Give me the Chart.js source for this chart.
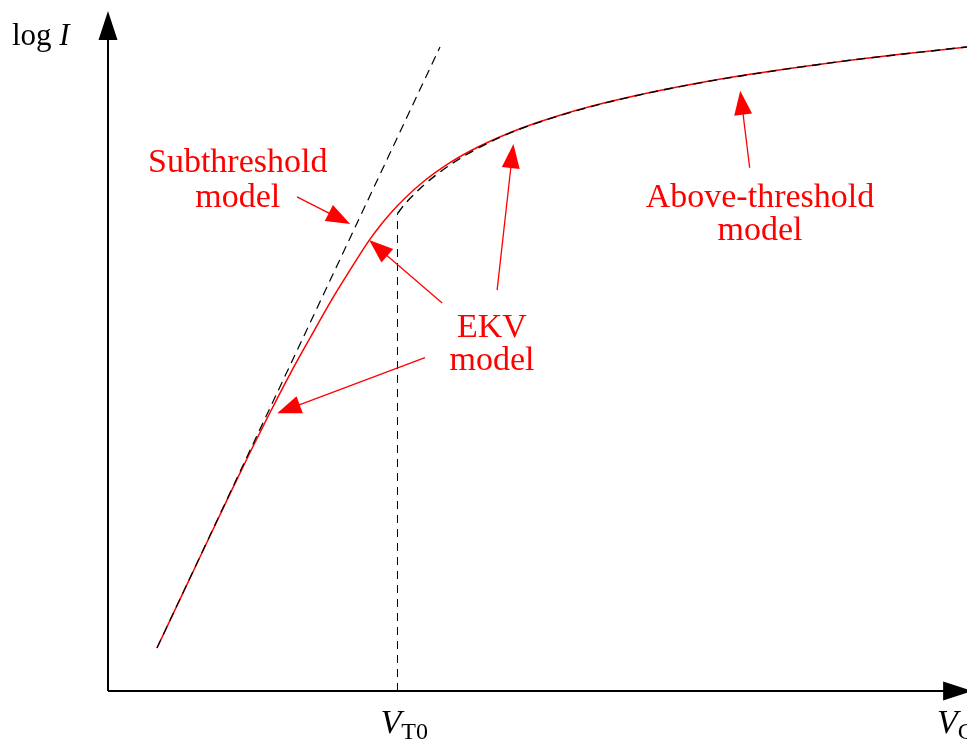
<!DOCTYPE html>
<html>
<head>
<meta charset="utf-8">
<script src="https://cdn.jsdelivr.net/npm/chart.js@4/dist/chart.umd.min.js"></script>
<style>
html,body{margin:0;padding:0;background:#fff;overflow:hidden;}
canvas{display:block;}
</style>
</head>
<body>
<canvas id="c" width="967" height="742"></canvas>
<script>
// ---- data (arbitrary units 0..100) ----
const ekvX   = [5.70, 10.71, 14.20, 16.53, 18.86, 21.19, 23.52, 26.19, 28.17, 30.50, 31.66, 33.64, 36.32, 39.81, 43.31, 47.96, 52.62, 57.28, 63.10, 68.92, 74.74, 80.56, 86.38, 92.20, 100.00];
const ekvY   = [6.36, 19.82, 29.16, 35.28, 41.20, 46.89, 52.22, 58.18, 62.26, 66.85, 68.80, 71.70, 74.93, 78.15, 80.62, 83.18, 85.18, 86.83, 88.54, 89.99, 91.23, 92.32, 93.31, 94.19, 95.27];
const subX   = [5.70, 38.65];
const subY   = [6.36, 95.27];
const aboveX = [33.70, 34.57, 35.74, 36.90, 38.30, 39.81, 41.56, 43.31, 45.63, 47.96, 52.62, 57.28, 63.10, 68.92, 74.74, 80.56, 86.38, 92.20, 100.00];
const aboveY = [70.64, 72.06, 73.61, 74.99, 76.43, 77.83, 79.22, 80.46, 81.91, 83.14, 85.13, 86.79, 88.51, 89.96, 91.20, 92.29, 93.30, 94.17, 95.27];
const vt0X   = [33.70, 33.70];
const vt0Y   = [0, 70.64];
const tickLabels = [{value: 33.70, main: 'V', sub: 'T0'}];
const axisLabelY = {main: 'log ', italic: 'I'};
const axisLabelX = {main: 'V', sub: 'G'};

const annotations = [
  {lines: ['Subthreshold', 'model'], x: 15.1, y: [76.8, 71.6],
   arrows: [[22.0, 73.1, 28.2, 69.1]]},
  {lines: ['EKV', 'model'], x: 44.7, y: [52.4, 47.5],
   arrows: [[38.9, 57.4, 30.4, 66.7], [36.9, 49.3, 19.7, 41.1], [45.3, 59.3, 47.2, 80.9]]},
  {lines: ['Above-threshold', 'model'], x: 75.9, y: [71.6, 66.7],
   arrows: [[74.7, 77.4, 73.6, 88.8]]}
];

const toPts = (xs, ys) => xs.map((x, i) => ({x, y: ys[i]}));

const SERIF = '"Liberation Serif", "DejaVu Serif", serif';
const RED = '#ff0000';

function arrowHead(ctx, x1, y1, x2, y2, len, halfW, color) {
  const a = Math.atan2(y2 - y1, x2 - x1);
  ctx.save();
  ctx.fillStyle = color;
  ctx.beginPath();
  ctx.moveTo(x2, y2);
  ctx.lineTo(x2 - len * Math.cos(a) + halfW * Math.sin(a), y2 - len * Math.sin(a) - halfW * Math.cos(a));
  ctx.lineTo(x2 - len * Math.cos(a) - halfW * Math.sin(a), y2 - len * Math.sin(a) + halfW * Math.cos(a));
  ctx.closePath();
  ctx.fill();
  ctx.restore();
}

const overlay = {
  id: 'overlay',
  afterDatasetsDraw(chart) {
    const ctx = chart.ctx;
    const xs = chart.scales.x, ys = chart.scales.y;
    const X = v => xs.getPixelForValue(v), Y = v => ys.getPixelForValue(v);

    // axes
    ctx.save();
    ctx.strokeStyle = '#000';
    ctx.lineWidth = 2;
    ctx.beginPath();
    ctx.moveTo(X(0), Y(0)); ctx.lineTo(X(0), Y(100.6) + 20);
    ctx.moveTo(X(0), Y(0)); ctx.lineTo(X(100.6) - 20, Y(0));
    ctx.stroke();
    ctx.restore();
    arrowHead(ctx, X(0), Y(0), X(0), Y(100.6), 29, 9.5, '#000');
    arrowHead(ctx, X(0), Y(0), X(100.6), Y(0), 29, 9.5, '#000');

    // axis texts
    ctx.save();
    ctx.fillStyle = '#000';
    ctx.textBaseline = 'alphabetic';
    ctx.textAlign = 'left';
    ctx.font = '31px ' + SERIF;
    let tx = 12;
    ctx.fillText(axisLabelY.main, tx, 45);
    tx += ctx.measureText(axisLabelY.main).width;
    ctx.font = 'italic 31px ' + SERIF;
    ctx.fillText(axisLabelY.italic, tx, 45);
    tickLabels.forEach(t => {
      ctx.font = 'italic 34px ' + SERIF;
      const w1 = ctx.measureText(t.main).width;
      const sx = X(t.value) - 17;
      ctx.fillText(t.main, sx, 733);
      ctx.font = '24px ' + SERIF;
      ctx.fillText(t.sub, sx + w1, 739);
    });
    ctx.font = 'italic 34px ' + SERIF;
    const wv = ctx.measureText(axisLabelX.main).width;
    ctx.fillText(axisLabelX.main, 937, 733);
    ctx.font = '24px ' + SERIF;
    ctx.fillText(axisLabelX.sub, 937 + wv, 739);
    ctx.restore();

    // annotations
    ctx.save();
    ctx.fillStyle = RED;
    ctx.strokeStyle = RED;
    ctx.font = '34px ' + SERIF;
    ctx.textAlign = 'center';
    ctx.textBaseline = 'alphabetic';
    annotations.forEach(a => {
      a.lines.forEach((l, i) => ctx.fillText(l, X(a.x), Y(a.y[i])));
      a.arrows.forEach(ar => {
        const x1 = X(ar[0]), y1 = Y(ar[1]), x2 = X(ar[2]), y2 = Y(ar[3]);
        const ang = Math.atan2(y2 - y1, x2 - x1);
        ctx.lineWidth = 1.3;
        ctx.beginPath();
        ctx.moveTo(x1, y1);
        ctx.lineTo(x2 - 20 * Math.cos(ang), y2 - 20 * Math.sin(ang));
        ctx.stroke();
        arrowHead(ctx, x1, y1, x2, y2, 24, 9, RED);
      });
    });
    ctx.restore();
  }
};

new Chart(document.getElementById('c'), {
  type: 'scatter',
  data: {
    datasets: [
      {label: 'Subthreshold model', data: toPts(subX, subY), showLine: true,
       borderColor: '#000', borderWidth: 1.2, borderDash: [9, 6], pointRadius: 0, order: 1},
      {label: 'Above-threshold model', data: toPts(aboveX, aboveY), showLine: true,
       borderColor: '#000', borderWidth: 1.4, borderDash: [9, 6], pointRadius: 0,
       cubicInterpolationMode: 'monotone', order: 1},
      {label: 'V_T0', data: toPts(vt0X, vt0Y), showLine: true,
       borderColor: '#000', borderWidth: 1, borderDash: [8, 6], pointRadius: 0, order: 1},
      {label: 'EKV model', data: toPts(ekvX, ekvY), showLine: true,
       borderColor: RED, borderWidth: 1.5, pointRadius: 0,
       cubicInterpolationMode: 'monotone', order: 2}
    ]
  },
  options: {
    responsive: false,
    animation: false,
    layout: {padding: {left: 108, right: 0, top: 15, bottom: 51}},
    plugins: {legend: {display: false}, tooltip: {enabled: false}},
    scales: {
      x: {type: 'linear', min: 0, max: 100, display: false},
      y: {type: 'linear', min: 0, max: 100, display: false}
    }
  },
  plugins: [overlay]
});
</script>
</body>
</html>
